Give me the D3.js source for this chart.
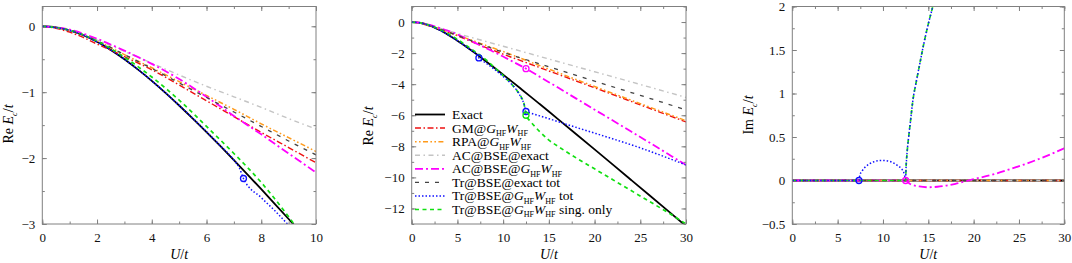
<!DOCTYPE html>
<html>
<head>
<meta charset="utf-8">
<script src="https://cdn.jsdelivr.net/npm/d3@7/dist/d3.min.js"></script>
<style>
body { margin: 0; background: #fff; }
svg text { font-family: "Liberation Serif", "DejaVu Serif", serif; white-space: pre; }
</style>
</head>
<body>
<div id="chart"></div>
<script>
// ---- data: [U/t, value] ----
var exactRe = [[0,0],[0.5,-0.016],[1,-0.062],[1.5,-0.136],[2,-0.236],[2.5,-0.358],[3,-0.5],[3.5,-0.658],[4,-0.828],[4.5,-1.01],[5,-1.202],[5.5,-1.401],[6,-1.606],[6.5,-1.816],[7,-2.031],[7.5,-2.25],[8,-2.472],[8.5,-2.697],[9,-2.924],[9.5,-3.153],[10,-3.385],[11,-3.852],[12,-4.325],[13,-4.8],[14,-5.28],[15,-5.762],[16,-6.246],[18,-7.22],[20,-8.198],[22,-9.18],[24,-10.166],[26,-11.153],[28,-12.142],[30,-13.133]];
var gmRe = [[0,0],[0.5,-0.03],[1,-0.09],[1.5,-0.17],[2,-0.27],[2.5,-0.36],[3,-0.46],[4,-0.66],[5,-0.89],[6,-1.13],[7,-1.37],[8,-1.61],[9,-1.84],[10,-2.07],[12,-2.5],[15,-3.15],[20,-4.23],[25,-5.33],[30,-6.43]];
var rpaRe = [[0,0],[1,-0.06],[2,-0.22],[3,-0.43],[4,-0.63],[5,-0.84],[6,-1.05],[7,-1.26],[8,-1.48],[9,-1.69],[10,-1.9],[12,-2.35],[15,-3.03],[20,-4.15],[25,-5.25],[30,-6.35]];
var acExactRe = [[0,0],[1,-0.06],[2,-0.21],[3,-0.38],[4,-0.56],[5,-0.74],[6,-0.91],[7,-1.07],[8,-1.23],[9,-1.4],[10,-1.56],[15,-2.38],[20,-3.2],[25,-4.02],[30,-4.85]];
var acGwRe = [[0,0],[1,-0.05],[2,-0.19],[3,-0.37],[4,-0.57],[5,-0.8],[6,-1.07],[7,-1.36],[8,-1.64],[9,-1.93],[10,-2.22],[11,-2.53],[12,-2.84],[12.5,-3.0],[13,-3.17],[14,-3.52],[15,-3.87],[16,-4.22],[18,-4.93],[20,-5.64],[22,-6.34],[24,-7.05],[26,-7.76],[28,-8.48],[30,-9.2]];
var trExactRe = [[0,0],[1,-0.06],[2,-0.22],[3,-0.43],[4,-0.64],[5,-0.86],[6,-1.08],[7,-1.3],[8,-1.52],[9,-1.74],[10,-1.95],[12,-2.33],[15,-2.88],[20,-3.8],[25,-4.72],[30,-5.65]];
var trTotRe = [[0,0],[1,-0.062],[2,-0.236],[3,-0.5],[4,-0.828],[5,-1.2],[6,-1.6],[6.5,-1.81],[7,-2.03],[7.2,-2.15],[7.35,-2.31],[8,-2.6],[8.5,-2.8],[9,-3.02],[10,-3.5],[11,-4.05],[11.5,-4.4],[12,-4.9],[12.3,-5.3],[12.5,-5.76],[13,-5.86],[14,-6.04],[15,-6.22],[17,-6.6],[20,-7.15],[25,-8.1],[30,-9.2]];
var trSingRe = [[0,0],[1,-0.06],[2,-0.225],[3,-0.47],[4,-0.77],[5,-1.12],[6,-1.52],[7,-1.93],[8,-2.37],[8.5,-2.62],[9,-2.89],[9.5,-3.17],[10,-3.45],[11,-4.05],[11.5,-4.4],[12,-4.85],[12.3,-5.3],[12.5,-6.0],[13,-6.4],[14,-7.05],[15,-7.6],[16,-8.0],[18,-8.75],[20,-9.45],[22,-10.15],[24,-10.85],[26,-11.55],[28,-12.25],[30,-13.0]];

var zeroIm = [[0,0],[30,0]];
var acGwIm = [[0,0],[12.5,0],[13,-0.04],[14,-0.068],[15,-0.078],[16,-0.072],[17,-0.058],[18,-0.038],[19,-0.012],[20,0.015],[22,0.065],[24,0.13],[26,0.2],[28,0.28],[30,0.37]];
var trTotIm = [[0,0],[7.35,0],[7.45,0.06],[7.7,0.11],[8,0.15],[8.5,0.19],[9,0.215],[9.5,0.228],[10,0.23],[10.5,0.225],[11,0.21],[11.5,0.18],[12,0.14],[12.3,0.09],[12.5,0.02],[12.55,0.16],[12.6,0.24],[12.7,0.37],[12.8,0.47],[13,0.65],[13.3,0.92],[13.7,1.15],[14,1.31],[14.5,1.57],[15,1.8],[15.5,2.0],[15.7,2.08]];
var trSingIm = [[0,0],[12.5,0],[12.55,0.16],[12.6,0.24],[12.7,0.37],[12.8,0.47],[13,0.65],[13.3,0.92],[13.7,1.15],[14,1.31],[14.5,1.57],[15,1.8],[15.5,2.0],[15.7,2.08]];

// open circles: [U/t, value, series]
var markersRe = [[7.35,-2.31,"trTot"],[12.5,-3.0,"acGw"],[12.5,-5.76,"trTot"],[12.5,-6.0,"trSing"]];
var markersIm = [[7.35,0,"trTot"],[12.5,0,"acGw"]];

// ticks
var xTicksLeft = [0,2,4,6,8,10], xMinorLeft = d3.range(0,10.01,1);
var yTicksLeft = [0,-1,-2,-3], yMinorLeft = d3.range(-3,0.31,0.5);
var xTicksMid = [0,5,10,15,20,25,30], xMinorMid = d3.range(0,30.01,2.5);
var yTicksMid = [0,-2,-4,-6,-8,-10,-12], yMinorMid = d3.range(-13,1.01,1);
var xTicksRight = [0,5,10,15,20,25,30], xMinorRight = d3.range(0,30.01,2.5);
var yTicksRight = [-0.5,0,0.5,1,1.5,2], yMinorRight = d3.range(-0.5,2.01,0.25);

var seriesKeys = ["exact","gm","rpa","acExact","acGw","trExact","trTot","trSing"];
var drawOrder = ["exact","gm","rpa","acExact","acGw","trExact","trSing","trTot"];
var seriesRe = {exact: exactRe, gm: gmRe, rpa: rpaRe, acExact: acExactRe, acGw: acGwRe, trExact: trExactRe, trTot: trTotRe, trSing: trSingRe};
var seriesIm = {exact: zeroIm, gm: zeroIm, rpa: zeroIm, acExact: zeroIm, acGw: acGwIm, trExact: zeroIm, trTot: trTotIm, trSing: trSingIm};

var G = {t:"G", i:1}, W = {t:"W", i:1}, HF = {t:"HF", sub:1};
var legendLabels = {
	exact: [{t:"Exact"}],
	gm: [{t:"GM@"}, G, HF, W, HF],
	rpa: [{t:"RPA@"}, G, HF, W, HF],
	acExact: [{t:"AC@BSE@exact"}],
	acGw: [{t:"AC@BSE@"}, G, HF, W, HF],
	trExact: [{t:"Tr@BSE@exact tot"}],
	trTot: [{t:"Tr@BSE@"}, G, HF, W, HF, {t:" tot"}],
	trSing: [{t:"Tr@BSE@"}, G, HF, W, HF, {t:" sing. only"}]
};

// line styles
var styles = {
	exact:   {color: "#000000", width: 1.8, dash: null},
	gm:      {color: "#ee1111", width: 1.4, dash: "6,2.5,1.5,2.5"},
	rpa:     {color: "#ff9a1a", width: 1.5, dash: "1.6,2.4,1.6,2.4,5,2.4"},
	acExact: {color: "#c4c4c4", width: 1.4, dash: "5,3.5,1.5,3.5"},
	acGw:    {color: "#ff00ff", width: 1.8, dash: "8,3,2,3"},
	trExact: {color: "#444444", width: 1.3, dash: "4,6"},
	trTot:   {color: "#1010ff", width: 1.5, dash: "1.5,2"},
	trSing:  {color: "#11e011", width: 1.7, dash: "4,3.5"}
};

var serif = "Liberation Serif, DejaVu Serif, serif";
var width = 1072, height = 263;
var svg = d3.select("#chart").append("svg")
	.attr("width", width)
	.attr("height", height)
	.attr("font-family", serif);

function fmt(d) {
	return d < 0 ? "\u2212" + Math.abs(d) : "" + d;
}

function richText(sel, parts, size) {
	parts.forEach(function(p, k) {
		var t = sel.append("tspan").text(p.t);
		if(p.i) t.attr("font-style", "italic");
		if(p.sub) {
			t.attr("font-size", size * 0.6).attr("dy", size * 0.25);
		} else if(k > 0 && parts[k - 1].sub) {
			t.attr("dy", -size * 0.25);
		}
	});
}

function drawPanel(p, idx) {
	var x = d3.scaleLinear().domain(p.xDomain).range([p.left, p.right]);
	var y = d3.scaleLinear().domain(p.yDomain).range([p.bottom, p.top]);
	var g = svg.append("g");

	g.append("clipPath").attr("id", "clip" + idx)
		.append("rect")
		.attr("x", p.left).attr("y", p.top)
		.attr("width", p.right - p.left).attr("height", p.bottom - p.top);

	function axisStyle(a) {
		a.attr("font-family", serif).attr("font-size", 13);
		a.select(".domain").remove();
		a.selectAll(".tick line").attr("stroke", "#808080");
		a.selectAll("text").attr("font-family", serif).attr("font-size", 13).attr("fill", "#111");
	}

	// minor ticks, all four sides
	g.append("g").attr("transform", "translate(0," + p.bottom + ")")
		.call(d3.axisBottom(x).tickValues(p.xMinor).tickSize(-2.5).tickFormat(""))
		.call(axisStyle);
	g.append("g").attr("transform", "translate(0," + p.top + ")")
		.call(d3.axisTop(x).tickValues(p.xMinor).tickSize(-2.5).tickFormat(""))
		.call(axisStyle);
	g.append("g").attr("transform", "translate(" + p.left + ",0)")
		.call(d3.axisLeft(y).tickValues(p.yMinor).tickSize(-2.5).tickFormat(""))
		.call(axisStyle);
	g.append("g").attr("transform", "translate(" + p.right + ",0)")
		.call(d3.axisRight(y).tickValues(p.yMinor).tickSize(-2.5).tickFormat(""))
		.call(axisStyle);

	// major ticks
	g.append("g").attr("transform", "translate(0," + p.bottom + ")")
		.call(d3.axisBottom(x).tickValues(p.xTicks).tickSize(-4.5).tickPadding(9).tickFormat(fmt))
		.call(axisStyle);
	g.append("g").attr("transform", "translate(0," + p.top + ")")
		.call(d3.axisTop(x).tickValues(p.xTicks).tickSize(-4.5).tickFormat(""))
		.call(axisStyle);
	g.append("g").attr("transform", "translate(" + p.left + ",0)")
		.call(d3.axisLeft(y).tickValues(p.yTicks).tickSize(-4.5).tickPadding(7).tickFormat(fmt))
		.call(axisStyle);
	g.append("g").attr("transform", "translate(" + p.right + ",0)")
		.call(d3.axisRight(y).tickValues(p.yTicks).tickSize(-4.5).tickFormat(""))
		.call(axisStyle);

	// curves
	var line = d3.line()
		.x(function(d) { return x(d[0]); })
		.y(function(d) { return y(d[1]); })
		.curve(d3.curveMonotoneX);
	var plot = g.append("g").attr("clip-path", "url(#clip" + idx + ")");
	drawOrder.forEach(function(k) {
		var st = styles[k];
		plot.append("path")
			.datum(p.series[k])
			.attr("d", line)
			.attr("fill", "none")
			.attr("stroke", st.color)
			.attr("stroke-width", st.width)
			.attr("stroke-dasharray", st.dash);
	});
	plot.selectAll("circle.mark")
		.data(p.markers)
		.enter()
		.append("circle")
		.attr("class", "mark")
		.attr("cx", function(d) { return x(d[0]); })
		.attr("cy", function(d) { return y(d[1]); })
		.attr("r", 3)
		.attr("fill", "none")
		.attr("stroke", function(d) { return styles[d[2]].color; })
		.attr("stroke-width", 1.3);

	// frame
	g.append("rect")
		.attr("x", p.left).attr("y", p.top)
		.attr("width", p.right - p.left).attr("height", p.bottom - p.top)
		.attr("fill", "none")
		.attr("stroke", "#808080")
		.attr("stroke-width", 1);

	// axis titles
	var xt = g.append("text")
		.attr("x", (p.left + p.right) / 2)
		.attr("y", 259)
		.attr("text-anchor", "middle")
		.attr("font-size", 14);
	richText(xt, [{t:"U", i:1}, {t:"/"}, {t:"t", i:1}], 14);

	var yt = g.append("text")
		.attr("transform", "translate(" + p.yTitleX + "," + p.yTitleY + ") rotate(-90)")
		.attr("text-anchor", "middle")
		.attr("font-size", 14);
	richText(yt, [{t:p.yPrefix + " "}, {t:"E", i:1}, {t:"c", i:1, sub:1}, {t:"/"}, {t:"t", i:1}], 14);

	// legend
	if(p.legend) {
		var lg = g.append("g");
		seriesKeys.forEach(function(k, i) {
			var st = styles[k];
			var ly = p.legend.y + i * p.legend.step;
			lg.append("line")
				.attr("x1", p.legend.x).attr("x2", p.legend.x + 30)
				.attr("y1", ly).attr("y2", ly)
				.attr("stroke", st.color)
				.attr("stroke-width", st.width)
				.attr("stroke-dasharray", st.dash);
			var t = lg.append("text")
				.attr("x", p.legend.x + 37)
				.attr("y", ly + 4.5)
				.attr("font-size", 13.5);
			richText(t, legendLabels[k], 13.5);
		});
	}
}

var panels = [
	{left: 42.3, right: 316, top: 6.5, bottom: 224, xDomain: [0, 10], yDomain: [-3, 0.3],
		xTicks: xTicksLeft, xMinor: xMinorLeft, yTicks: yTicksLeft, yMinor: yMinorLeft,
		series: seriesRe, markers: markersRe.slice(0, 1), yPrefix: "Re", yTitleX: 13, yTitleY: 124},
	{left: 411.7, right: 686, top: 6.5, bottom: 224, xDomain: [0, 30], yDomain: [-13, 1],
		xTicks: xTicksMid, xMinor: xMinorMid, yTicks: yTicksMid, yMinor: yMinorMid,
		series: seriesRe, markers: markersRe, yPrefix: "Re", yTitleX: 373, yTitleY: 126,
		legend: {x: 415, y: 114.5, step: 13.57}},
	{left: 792.3, right: 1064.3, top: 6.5, bottom: 224, xDomain: [0, 30], yDomain: [-0.5, 2],
		xTicks: xTicksRight, xMinor: xMinorRight, yTicks: yTicksRight, yMinor: yMinorRight,
		series: seriesIm, markers: markersIm, yPrefix: "Im", yTitleX: 753, yTitleY: 115}
];

panels.forEach(function(p, i) {
	drawPanel(p, i);
});
</script>
</body>
</html>
